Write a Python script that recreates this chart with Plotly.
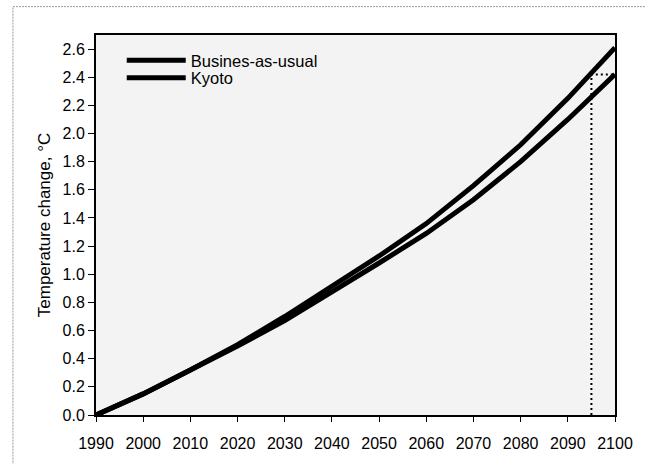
import plotly.graph_objects as go

years = [1990, 2000, 2010, 2020, 2030, 2040, 2050, 2060, 2070, 2080, 2090, 2100]
bau = [0.0, 0.15, 0.32, 0.50, 0.70, 0.91, 1.13, 1.36, 1.63, 1.92, 2.25, 2.61]
kyoto = [0.0, 0.15, 0.32, 0.49, 0.67, 0.87, 1.08, 1.29, 1.53, 1.80, 2.10, 2.42]
marker_year = 2095
marker_value = 2.42
x_ticks = [1990, 2000, 2010, 2020, 2030, 2040, 2050, 2060, 2070, 2080, 2090, 2100]
y_ticks = [0.0, 0.2, 0.4, 0.6, 0.8, 1.0, 1.2, 1.4, 1.6, 1.8, 2.0, 2.2, 2.4, 2.6]

fig = go.Figure()
fig.add_trace(go.Scatter(x=years, y=bau, mode="lines", name="Busines-as-usual",
                         line=dict(color="black", width=5), legend="legend"))
fig.add_trace(go.Scatter(x=years, y=kyoto, mode="lines", name="Kyoto",
                         line=dict(color="black", width=5), legend="legend2"))
fig.add_trace(go.Scatter(x=[marker_year, marker_year, years[-1]],
                         y=[0, marker_value, marker_value], mode="lines",
                         line=dict(color="black", width=2, dash="2px,3px"),
                         showlegend=False, hoverinfo="skip"))

font = "Liberation Sans, Arial, sans-serif"
leg = dict(xanchor="left", yanchor="middle", bgcolor="rgba(0,0,0,0)",
           font=dict(size=16.5, family=font, color="black"), itemwidth=59,
           borderwidth=0)
fig.update_layout(
    width=645, height=464,
    margin=dict(l=96, r=25, t=35, b=40),
    paper_bgcolor="white", plot_bgcolor="#f3f3f3",
    font=dict(family=font, size=16, color="black"),
    showlegend=True,
    legend=dict(leg, x=0.0496, y=0.933),
    legend2=dict(leg, x=0.0496, y=0.887),
    xaxis=dict(range=[1990, 2100], tickvals=x_ticks,
               ticktext=[str(v) for v in x_ticks],
               showgrid=False, zeroline=False,
               showline=True, linecolor="black", linewidth=2, mirror=True,
               ticks="outside", ticklen=5, tickcolor="black",
               ticklabelstandoff=8,
               tickfont=dict(size=16)),
    yaxis=dict(range=[0, 2.7], tickvals=y_ticks,
               ticktext=[f"{v:.1f}" for v in y_ticks],
               showgrid=False, zeroline=False,
               showline=True, linecolor="black", linewidth=2, mirror=True,
               ticks="outside", ticklen=6, tickcolor="black",
               tickfont=dict(size=16),
               title=dict(text="Temperature change, °C", font=dict(size=17), standoff=8)),
    shapes=[dict(type="rect", xref="paper", yref="paper",
                 x0=-0.160, x1=1.2, y0=-0.3, y1=1.0746,
                 line=dict(color="#999999", width=1, dash="2px,1px"), layer="below")],
)

fig.write_html("out.html", config={"displayModeBar": False},
               post_script="document.body.style.margin='0';")
